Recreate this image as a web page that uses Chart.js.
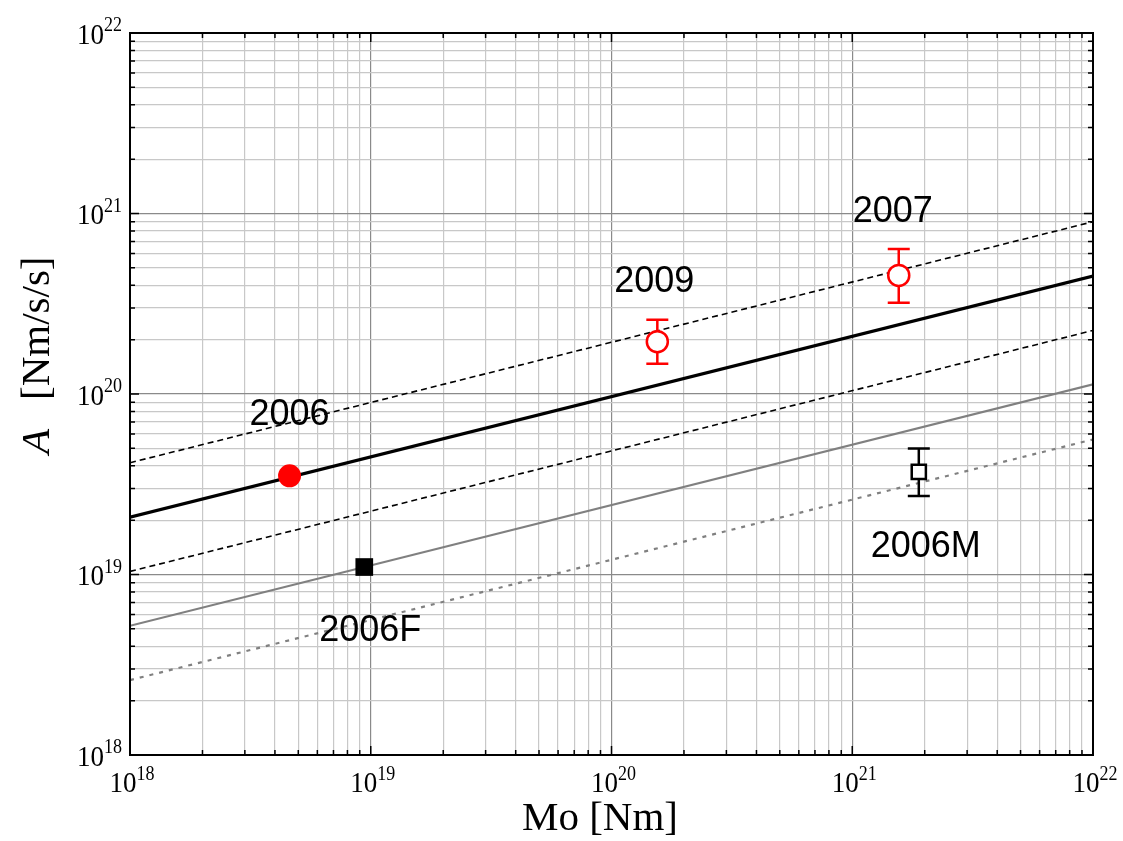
<!DOCTYPE html>
<html>
<head>
<meta charset="utf-8">
<title>A vs Mo</title>
<script src="https://cdn.jsdelivr.net/npm/chart.js@4/dist/chart.umd.min.js"></script>
<style>
  html, body { margin: 0; padding: 0; background: #fff; }
  #wrap { width: 1123px; height: 841px; }
</style>
</head>
<body>
<div id="wrap"><canvas id="c" width="1123" height="841"></canvas></div>
<script>
// events: seismic moment Mo [Nm] and A [Nm/s/s]
const eventNames = ['2006', '2006F', '2009', '2007', '2006M'];
const momentNm   = [4.6e18, 9.4e18, 1.55e20, 1.56e21, 1.89e21];
const accel      = [3.52e19, 1.1e19, 1.95e20, 4.54e20, 3.7e19];
const accelLow   = [null, null, 1.47e20, 3.2e20, 2.72e19];
const accelHigh  = [null, null, 2.58e20, 6.35e20, 4.99e19];

// reference lines, A at Mo = 1e18 and Mo = 1e22
const lineMo     = [1e18, 1e22];
const fitMain    = [2.08e19, 4.5e20];
const fitUpper   = [4.16e19, 9.0e20];
const fitLower   = [1.04e19, 2.25e20];
const fitGray    = [5.2e18, 1.13e20];
const fitGrayLow = [2.6e18, 5.6e19];

// axis ticks: decades plus 2..9 minor steps
const decadeExps = [18, 19, 20, 21, 22];
const minorSteps = [2, 3, 4, 5, 6, 7, 8, 9];

// marker styling per event
const markStyle  = ['circle', 'rect', 'circle', 'circle', 'rect'];
const markFill   = ['#ff0000', '#000000', '#ffffff', '#ffffff', '#ffffff'];
const markEdge   = ['#ff0000', '#000000', '#ff0000', '#ff0000', '#000000'];
const markRadius = [11.5, 12.5, 10.5, 10.5, 10];
const markLine   = [0, 0, 2.5, 2.5, 2.5];
const labelShift = [[0, -64], [6, 61], [-3, -63], [-6, -66], [7, 72]];

const SERIF = '"Liberation Serif", "Times New Roman", serif';
const SANS = '"Liberation Sans", Arial, sans-serif';

function isDecade(v) {
  const l = Math.log10(v);
  return Math.abs(l - Math.round(l)) < 1e-9;
}

function tickList() {
  const out = [];
  decadeExps.forEach((e, i) => {
    out.push({ value: Math.pow(10, e), major: true });
    if (i < decadeExps.length - 1) {
      minorSteps.forEach((m) => out.push({ value: m * Math.pow(10, e), major: false }));
    }
  });
  return out;
}

function lineData(ys) {
  return lineMo.map((x, i) => ({ x, y: ys[i] }));
}

function lineSet(ys, color, width, dash) {
  return {
    data: lineData(ys), showLine: true, pointRadius: 0, borderColor: color,
    borderWidth: width, borderDash: dash, fill: false,
  };
}

const gridColor = (ctx) => (ctx.tick && isDecade(ctx.tick.value) ? '#8a8a8a' : '#c8c8c8');

// "10" with a raised exponent, squeezed a little like the axis font
const SQ = 0.9;
function powLabel(ctx, e, anchorX, baseY, align) {
  ctx.save();
  ctx.font = '30px ' + SERIF;
  const w1 = ctx.measureText('10').width * SQ;
  ctx.font = '20px ' + SERIF;
  const w2 = ctx.measureText(String(e)).width * SQ;
  const left = align === 'right' ? anchorX - w1 - w2 : anchorX - (w1 + w2) / 2;
  ctx.translate(left, baseY);
  ctx.scale(SQ, 1);
  ctx.font = '30px ' + SERIF;
  ctx.fillText('10', 0, 0);
  ctx.font = '20px ' + SERIF;
  ctx.fillText(String(e), w1 / SQ, -12.5);
  ctx.restore();
}

const axisDecor = {
  id: 'axisDecor',
  beforeDatasetDraw(chart, args) {
    // error bars go on top of the lines but under the markers
    if (args.index !== 0) return;
    const { ctx, scales: { x, y } } = chart;
    ctx.save();
    ctx.lineWidth = 2.5;
    momentNm.forEach((mo, i) => {
      if (accelLow[i] == null) return;
      const px = x.getPixelForValue(mo);
      const lo = y.getPixelForValue(accelLow[i]);
      const hi = y.getPixelForValue(accelHigh[i]);
      ctx.strokeStyle = markEdge[i];
      ctx.beginPath();
      ctx.moveTo(px, lo); ctx.lineTo(px, hi);
      ctx.moveTo(px - 11, lo); ctx.lineTo(px + 11, lo);
      ctx.moveTo(px - 11, hi); ctx.lineTo(px + 11, hi);
      ctx.stroke();
    });
    ctx.restore();
  },
  afterDatasetsDraw(chart) {
    const { ctx, scales: { x, y } } = chart;
    ctx.save();
    ctx.fillStyle = '#000';
    ctx.font = '36px ' + SANS;
    ctx.textAlign = 'center';
    ctx.textBaseline = 'alphabetic';
    eventNames.forEach((name, i) => {
      const px = x.getPixelForValue(momentNm[i]) + labelShift[i][0];
      const py = y.getPixelForValue(accel[i]) + labelShift[i][1];
      ctx.fillText(name, px, py + 13);
    });
    ctx.restore();
  },
  afterDraw(chart) {
    const { ctx, chartArea: a, scales: { x, y } } = chart;
    ctx.save();
    // inward ticks on all four sides
    ctx.strokeStyle = '#000';
    ctx.lineWidth = 1.5;
    ctx.beginPath();
    tickList().forEach((t) => {
      const len = t.major ? 9 : 5;
      const px = x.getPixelForValue(t.value);
      const py = y.getPixelForValue(t.value);
      ctx.moveTo(px, a.bottom); ctx.lineTo(px, a.bottom - len);
      ctx.moveTo(px, a.top); ctx.lineTo(px, a.top + len);
      ctx.moveTo(a.left, py); ctx.lineTo(a.left + len, py);
      ctx.moveTo(a.right, py); ctx.lineTo(a.right - len, py);
    });
    ctx.stroke();
    ctx.lineWidth = 2;
    ctx.strokeRect(a.left, a.top, a.right - a.left, a.bottom - a.top);

    // decade labels
    ctx.fillStyle = '#000';
    ctx.textBaseline = 'alphabetic';
    ctx.textAlign = 'left';
    decadeExps.forEach((e) => {
      const v = Math.pow(10, e);
      powLabel(ctx, e, 122, y.getPixelForValue(v) + 10.5, 'right');
      powLabel(ctx, e, x.getPixelForValue(v) + 2, 792, 'center');
    });

    // axis titles
    ctx.font = '41px ' + SERIF;
    ctx.textAlign = 'center';
    ctx.fillText('Mo [Nm]', 600, 830);

    ctx.translate(49, 356);
    ctx.rotate(-Math.PI / 2);
    ctx.textAlign = 'left';
    ctx.font = 'italic 41px ' + SERIF;
    ctx.fillText('A', -98, 0);
    ctx.font = '41px ' + SERIF;
    ctx.fillText('[Nm/s/s]', -44, 0);
    ctx.restore();
  },
};

function init() {
  const ctx = document.getElementById('c').getContext('2d');
  new Chart(ctx, {
    type: 'scatter',
    data: {
      datasets: [
        {
          data: momentNm.map((x, i) => ({ x, y: accel[i] })),
          pointStyle: markStyle,
          pointRadius: markRadius,
          pointBackgroundColor: markFill,
          pointBorderColor: markEdge,
          pointBorderWidth: markLine,
          pointHoverRadius: markRadius,
        },
        lineSet(fitMain, '#000000', 3.2, []),
        lineSet(fitUpper, '#000000', 1.6, [6, 4]),
        lineSet(fitLower, '#000000', 1.6, [6, 4]),
        lineSet(fitGray, '#808080', 2.2, []),
        lineSet(fitGrayLow, '#808080', 2.2, [4, 6]),
      ],
    },
    options: {
      responsive: false,
      animation: false,
      layout: { padding: { top: 33, right: 30, left: 0, bottom: 0 } },
      plugins: { legend: { display: false }, tooltip: { enabled: false } },
      events: [],
      scales: {
        x: {
          type: 'logarithmic', min: 1e18, max: 1e22,
          ticks: { display: false },
          grid: { color: gridColor, lineWidth: 1.2, drawTicks: false },
          border: { display: false },
          afterBuildTicks: (s) => { s.ticks = tickList(); },
          afterFit: (s) => { s.height = 86; },
        },
        y: {
          type: 'logarithmic', min: 1e18, max: 1e22,
          ticks: { display: false },
          grid: { color: gridColor, lineWidth: 1.2, drawTicks: false },
          border: { display: false },
          afterBuildTicks: (s) => { s.ticks = tickList(); },
          afterFit: (s) => { s.width = 130; },
        },
      },
    },
    plugins: [axisDecor],
  });
}

init();
</script>
</body>
</html>
